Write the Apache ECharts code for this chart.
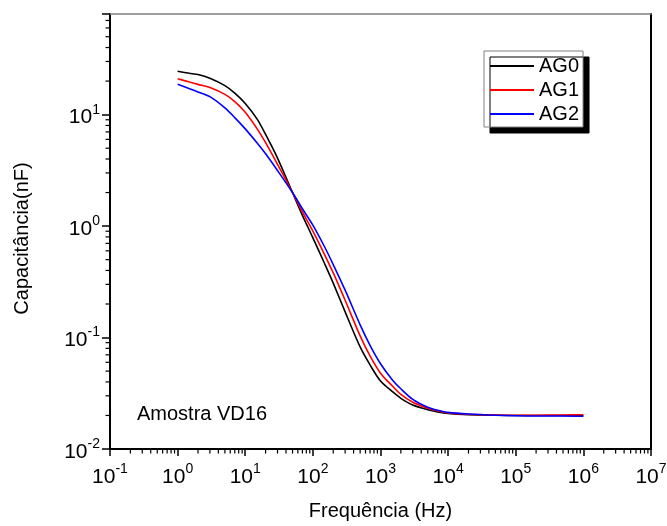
<!DOCTYPE html>
<html><head><meta charset="utf-8">
<script src="https://cdn.jsdelivr.net/npm/echarts@6/dist/echarts.min.js"></script>
<style>html,body{margin:0;padding:0;background:#fff}#c{width:667px;height:526px}</style>
</head><body><div id="c"></div>
<script>
// Frequency (Hz)
const freq = [1, 1.5, 2, 3, 5, 7, 10, 15, 20, 30, 50, 70, 100, 150, 200, 300, 500, 700,
  1000, 1500, 2000, 3000, 5000, 7000, 1e4, 2e4, 5e4, 1e5, 2e5, 5e5, 1e6];
// Capacitance (nF)
const ag0 = [24.5, 23.5, 22.9, 21.2, 18.2, 15.6, 12.6, 9.12, 6.64, 4.08, 2.0, 1.25, 0.785, 0.457, 0.308, 0.170, 0.0824, 0.0569,
  0.0407, 0.0327, 0.0285, 0.0248, 0.0225, 0.0215, 0.0208, 0.0203, 0.0201, 0.0200, 0.0200, 0.0200, 0.0199];
const ag1 = [21.0, 19.6, 18.7, 17.5, 15.2, 13.1, 10.5, 7.46, 5.6, 3.58, 2.0, 1.34, 0.90, 0.55, 0.38, 0.216, 0.1035, 0.0684,
  0.0479, 0.0367, 0.0309, 0.0263, 0.0232, 0.0220, 0.0211, 0.0205, 0.0202, 0.0201, 0.0201, 0.0202, 0.0203];
const ag2 = [18.7, 17.1, 16.0, 14.5, 11.5, 9.4, 7.45, 5.56, 4.45, 3.15, 2.0, 1.43, 1.02, 0.646, 0.452, 0.266, 0.130, 0.0851,
  0.0582, 0.0417, 0.0347, 0.0279, 0.0237, 0.0223, 0.0213, 0.0206, 0.0201, 0.0199, 0.0198, 0.0198, 0.0197];
const seriesNames = ['AG0', 'AG1', 'AG2'];
const seriesColors = ['#000000', '#ff0000', '#0000ff'];
const xRange = [0.1, 1e7];
const yRange = [0.01, 80];
const xDecades = [-1, 0, 1, 2, 3, 4, 5, 6];
const yDecades = [-2, -1, 0, 1];
const xTitle = 'Frequência (Hz)';
const yTitle = 'Capacitância(nF)';
const note = 'Amostra VD16';

const FONT = '"Liberation Sans", Arial, sans-serif';
function pairs(v) { return freq.map((f, i) => [f, v[i]]); }
const xMinor = [];
xDecades.forEach(k => { for (let m = 2; m <= 9; m++) xMinor.push([m * Math.pow(10, k), yRange[0]]); });
const yMinor = [];
yDecades.forEach(k => { for (let m = 2; m <= 9; m++) { const v = m * Math.pow(10, k); if (v < yRange[1] * 0.999) yMinor.push([xRange[0], v]); } });

function pow10Label(v) {
  const l = Math.log10(v); const e = Math.round(l);
  if (Math.abs(l - e) > 1e-6) return '';
  return '{b|10}{s|' + e + '}';
}
const rich = {
  b: { fontSize: 21, lineHeight: 30, fontFamily: FONT, color: '#000' },
  s: { fontSize: 14, lineHeight: 14, verticalAlign: 'top', fontFamily: FONT, color: '#000' }
};

const chart = echarts.init(document.getElementById('c'), null, { renderer: 'canvas' });
const lineSeries = [ag0, ag1, ag2].map((d, i) => ({
  type: 'line', name: seriesNames[i], data: pairs(d), xAxisIndex: 0, yAxisIndex: 0,
  showSymbol: false, symbol: 'none', smooth: 0.3,
  lineStyle: { color: seriesColors[i], width: 1.6 }, itemStyle: { color: seriesColors[i] },
  z: 3 + i
}));
chart.setOption({
  animation: false,
  backgroundColor: '#fff',
  grid: { left: 110, right: 16, top: 14, bottom: 77, containLabel: false, outerBoundsMode: 'none' },
  title: { text: note, left: 137, top: 404, padding: 0,
    textStyle: { fontSize: 20, fontWeight: 'normal', fontFamily: FONT, color: '#000' } },
  legend: {
    data: seriesNames.map(n => ({ name: n, icon: 'rect' })), orient: 'vertical', left: 484, top: 51, selectedMode: false,
    itemWidth: 44, itemHeight: 2, itemGap: 4, padding: [5, 4, 3, 6],
    backgroundColor: '#fff', borderColor: '#808080', borderWidth: 1,
    shadowColor: '#000', shadowBlur: 0, shadowOffsetX: 6, shadowOffsetY: 6,
    textStyle: { fontSize: 20, lineHeight: 20, fontFamily: FONT, color: '#000' }
  },
  xAxis: [
    { type: 'log', logBase: 10, min: xRange[0], max: xRange[1], position: 'bottom',
      axisLine: { lineStyle: { color: '#000', width: 2 } },
      axisTick: { length: 7, lineStyle: { color: '#000', width: 1.5 } },
      axisLabel: { formatter: pow10Label, margin: 13, rich: rich },
      splitLine: { show: false }, minorTick: { show: false },
      name: xTitle, nameLocation: 'middle', nameGap: 52,
      nameTextStyle: { fontSize: 20, fontFamily: FONT, color: '#000' } },
    { type: 'log', logBase: 10, min: xRange[0], max: xRange[1], position: 'top',
      axisLine: { lineStyle: { color: '#808080', width: 1.5 } },
      axisTick: { show: false }, axisLabel: { show: false }, splitLine: { show: false } }
  ],
  yAxis: [
    { type: 'log', logBase: 10, min: yRange[0], max: yRange[1], position: 'left',
      axisLine: { lineStyle: { color: '#000', width: 2 } },
      axisTick: { length: 8, lineStyle: { color: '#000', width: 1.5 } },
      axisLabel: { formatter: pow10Label, margin: 10, padding: [6, 0, 0, 0], rich: rich },
      splitLine: { show: false }, minorTick: { show: false },
      name: yTitle, nameLocation: 'middle', nameGap: 78,
      nameTextStyle: { fontSize: 20, fontFamily: FONT, color: '#000', padding: [0, 14, 0, 0] } },
    { type: 'log', logBase: 10, min: yRange[0], max: yRange[1], position: 'right',
      axisLine: { lineStyle: { color: '#000', width: 2 } },
      axisTick: { show: false }, axisLabel: { show: false }, splitLine: { show: false } }
  ],
  series: lineSeries.concat([
    { type: 'custom', name: 'xMinorTicks', coordinateSystem: 'cartesian2d', xAxisIndex: 0, yAxisIndex: 0,
      silent: true, clip: false, data: xMinor, z: 2,
      renderItem: (params, api) => {
        const p = api.coord([api.value(0), api.value(1)]);
        return { type: 'line', shape: { x1: p[0], y1: p[1], x2: p[0], y2: p[1] + 4.5 },
          style: { stroke: '#000', lineWidth: 1.2 } };
      } },
    { type: 'custom', name: 'yMinorTicks', coordinateSystem: 'cartesian2d', xAxisIndex: 0, yAxisIndex: 0,
      silent: true, clip: false, data: yMinor, z: 2,
      renderItem: (params, api) => {
        const p = api.coord([api.value(0), api.value(1)]);
        return { type: 'line', shape: { x1: p[0], y1: p[1], x2: p[0] - 4.5, y2: p[1] },
          style: { stroke: '#000', lineWidth: 1.2 } };
      } }
  ])
});
</script></body></html>
